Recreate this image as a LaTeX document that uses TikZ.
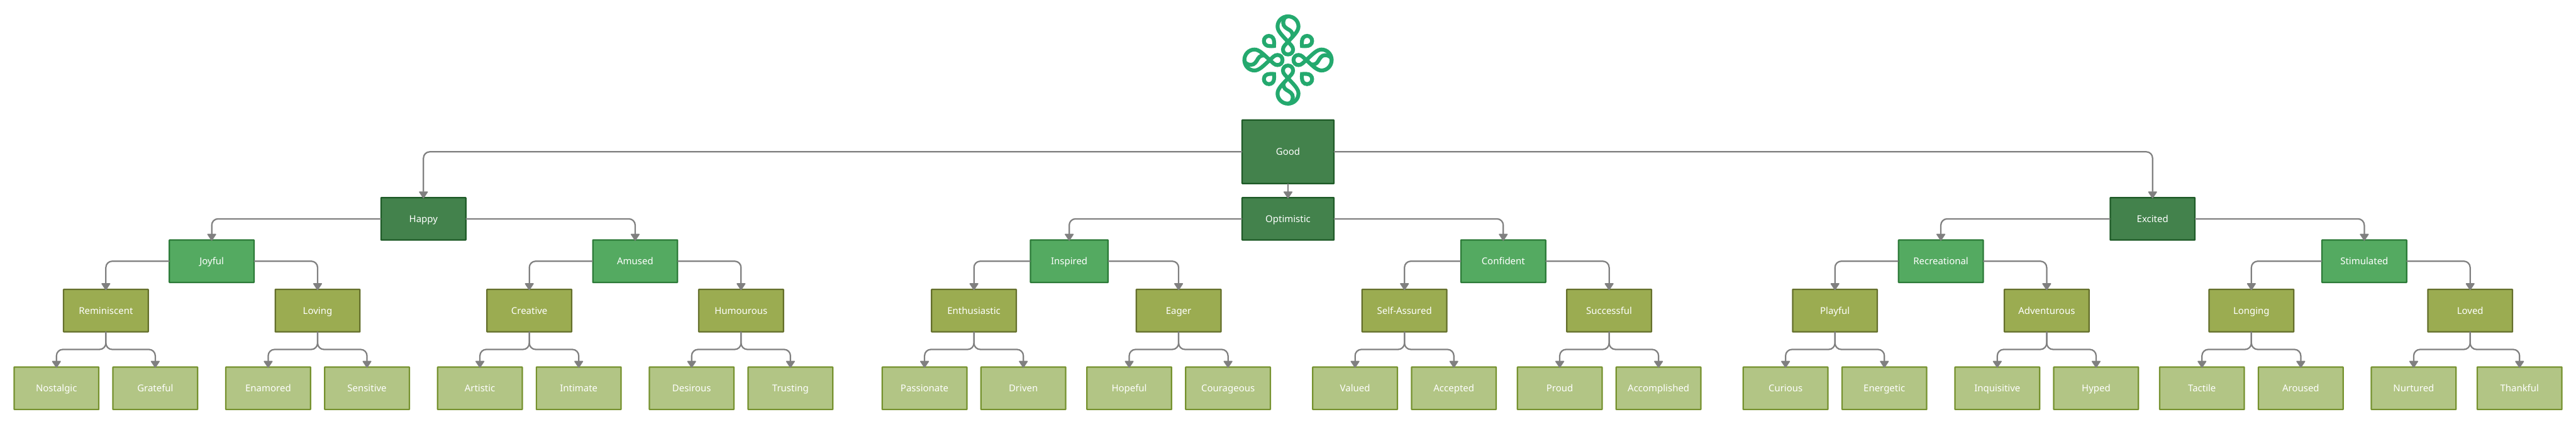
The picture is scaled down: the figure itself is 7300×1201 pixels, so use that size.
\documentclass[tikz,border=0pt]{standalone}
\usepackage{fontspec}
\setmainfont{Noto Sans}
\usetikzlibrary{arrows.meta}
\definecolor{lvlAfill}{HTML}{43824C}
\definecolor{lvlAline}{HTML}{1E5A27}
\definecolor{lvlBfill}{HTML}{54AA61}
\definecolor{lvlBline}{HTML}{2C7A38}
\definecolor{lvlCfill}{HTML}{9BAC51}
\definecolor{lvlCline}{HTML}{65702C}
\definecolor{lvlDfill}{HTML}{B2C585}
\definecolor{lvlDline}{HTML}{76922F}
\definecolor{logogreen}{HTML}{24A96E}
\definecolor{connector}{HTML}{808080}
\tikzset{
  box/.style={rectangle,rounded corners=1pt,line width=4pt,inner sep=0pt,outer sep=0pt,
    minimum height=120pt,minimum width=240pt,text=white,align=center,
    font=\fontsize{26.67pt}{32pt}\selectfont,text height=19pt,text depth=0pt},
  lvlA/.style={box,draw=lvlAline,fill=lvlAfill},
  lvlB/.style={box,draw=lvlBline,fill=lvlBfill},
  lvlC/.style={box,draw=lvlCline,fill=lvlCfill},
  lvlD/.style={box,draw=lvlDline,fill=lvlDfill},
  conn/.style={draw=connector,line width=4pt,rounded corners=18pt,
    -{Triangle[length=21pt,width=27pt,round,line width=3pt]}},
  logoline/.style={draw=logogreen,line width=11pt,line join=miter,x=0.33333pt,y=-0.33333pt}
}
\newcommand{\sidelink}[2]{\draw[conn] (#1.west) -| ([yshift=-2pt]#2.north);}
\newcommand{\sidelinkR}[2]{\draw[conn] (#1.east) -| ([yshift=-2pt]#2.north);}
\newcommand{\leaflink}[2]{\draw[conn] (#1.south) -- ++(0,50) -| ([yshift=-2pt]#2.north);}
\begin{document}
\begin{tikzpicture}[x=1pt,y=-1pt]
\useasboundingbox (0,0) rectangle (7300,1201);
% logo
\foreach \r in {0,90,180,270}{
  \begin{scope}[shift={(3650,170)},rotate=\r,logoline]
    \draw (0,-155) .. controls (-50,-210) and (-89,-245) .. (-89,-285)
      .. controls (-89,-332) and (-50,-371) .. (0,-371)
      .. controls (50,-371) and (89,-332) .. (89,-285)
      .. controls (89,-245) and (50,-210) .. (0,-155)
      .. controls (-20,-132) and (-43,-115) .. (-43,-90)
      .. controls (-43,-65) and (-25,-47) .. (0,-47)
      .. controls (25,-47) and (43,-65) .. (43,-90)
      .. controls (43,-115) and (20,-132) .. (0,-155) -- cycle;
    \draw (0,-371) .. controls (-25,-371) and (-41,-345) .. (-41,-315)
      .. controls (-41,-285) and (-15,-270) .. (12,-255)
      .. controls (35,-242) and (45,-215) .. (35,-190);
    \draw (119,-119) .. controls (116,-135) and (118,-150) .. (119,-163)
      .. controls (120,-186) and (138,-205) .. (162,-205)
      .. controls (186,-205) and (205,-186) .. (205,-162)
      .. controls (205,-132) and (178,-119) .. (160,-119)
      .. controls (148,-118) and (135,-116) .. (119,-119) -- cycle;
  \end{scope}
}
% level A
\node[lvlA,minimum width=260pt,minimum height=180pt] (good) at (3650,430) {Good};
\node[lvlA] (happy) at (1200,620) {Happy};
\node[lvlA,minimum width=260pt] (optimistic) at (3650,620) {Optimistic};
\node[lvlA] (excited) at (6100,620) {Excited};
% level B
\node[lvlB] (joyful) at (600,740) {Joyful};
\node[lvlB] (amused) at (1800,740) {Amused};
\node[lvlB,minimum width=220pt] (inspired) at (3030,740) {Inspired};
\node[lvlB] (confident) at (4260,740) {Confident};
\node[lvlB] (recreational) at (5500,740) {Recreational};
\node[lvlB] (stimulated) at (6700,740) {Stimulated};
% level C
\node[lvlC] (reminiscent) at (300,880) {Reminiscent};
\node[lvlC] (loving) at (900,880) {Loving};
\node[lvlC] (creative) at (1500,880) {Creative};
\node[lvlC] (humourous) at (2100,880) {Humourous};
\node[lvlC] (enthusiastic) at (2760,880) {Enthusiastic};
\node[lvlC] (eager) at (3340,880) {Eager};
\node[lvlC] (selfassured) at (3980,880) {Self-Assured};
\node[lvlC] (successful) at (4560,880) {Successful};
\node[lvlC] (playful) at (5200,880) {Playful};
\node[lvlC] (adventurous) at (5800,880) {Adventurous};
\node[lvlC] (longing) at (6380,880) {Longing};
\node[lvlC] (loved) at (7000,880) {Loved};
% level D
\node[lvlD] (nostalgic) at (160,1100) {Nostalgic};
\node[lvlD] (grateful) at (440,1100) {Grateful};
\node[lvlD] (enamored) at (760,1100) {Enamored};
\node[lvlD] (sensitive) at (1040,1100) {Sensitive};
\node[lvlD] (artistic) at (1360,1100) {Artistic};
\node[lvlD] (intimate) at (1640,1100) {Intimate};
\node[lvlD] (desirous) at (1960,1100) {Desirous};
\node[lvlD] (trusting) at (2240,1100) {Trusting};
\node[lvlD] (passionate) at (2620,1100) {Passionate};
\node[lvlD] (driven) at (2900,1100) {Driven};
\node[lvlD] (hopeful) at (3200,1100) {Hopeful};
\node[lvlD] (courageous) at (3480,1100) {Courageous};
\node[lvlD] (valued) at (3840,1100) {Valued};
\node[lvlD] (accepted) at (4120,1100) {Accepted};
\node[lvlD] (proud) at (4420,1100) {Proud};
\node[lvlD] (accomplished) at (4700,1100) {Accomplished};
\node[lvlD] (curious) at (5060,1100) {Curious};
\node[lvlD] (energetic) at (5340,1100) {Energetic};
\node[lvlD] (inquisitive) at (5660,1100) {Inquisitive};
\node[lvlD] (hyped) at (5940,1100) {Hyped};
\node[lvlD] (tactile) at (6240,1100) {Tactile};
\node[lvlD] (aroused) at (6520,1100) {Aroused};
\node[lvlD] (nurtured) at (6840,1100) {Nurtured};
\node[lvlD] (thankful) at (7140,1100) {Thankful};
% connectors
\sidelink{good}{happy}
\sidelinkR{good}{excited}
\draw[conn] (good.south) -- ([yshift=-2pt]optimistic.north);
\foreach \p/\a/\b in {happy/joyful/amused,optimistic/inspired/confident,excited/recreational/stimulated,
  joyful/reminiscent/loving,amused/creative/humourous,inspired/enthusiastic/eager,confident/selfassured/successful,
  recreational/playful/adventurous,stimulated/longing/loved}{
  \sidelink{\p}{\a}
  \sidelinkR{\p}{\b}
}
\foreach \p/\a/\b in {reminiscent/nostalgic/grateful,loving/enamored/sensitive,creative/artistic/intimate,
  humourous/desirous/trusting,enthusiastic/passionate/driven,eager/hopeful/courageous,
  selfassured/valued/accepted,successful/proud/accomplished,playful/curious/energetic,
  adventurous/inquisitive/hyped,longing/tactile/aroused,loved/nurtured/thankful}{
  \leaflink{\p}{\a}
  \leaflink{\p}{\b}
}
\end{tikzpicture}
\end{document}
